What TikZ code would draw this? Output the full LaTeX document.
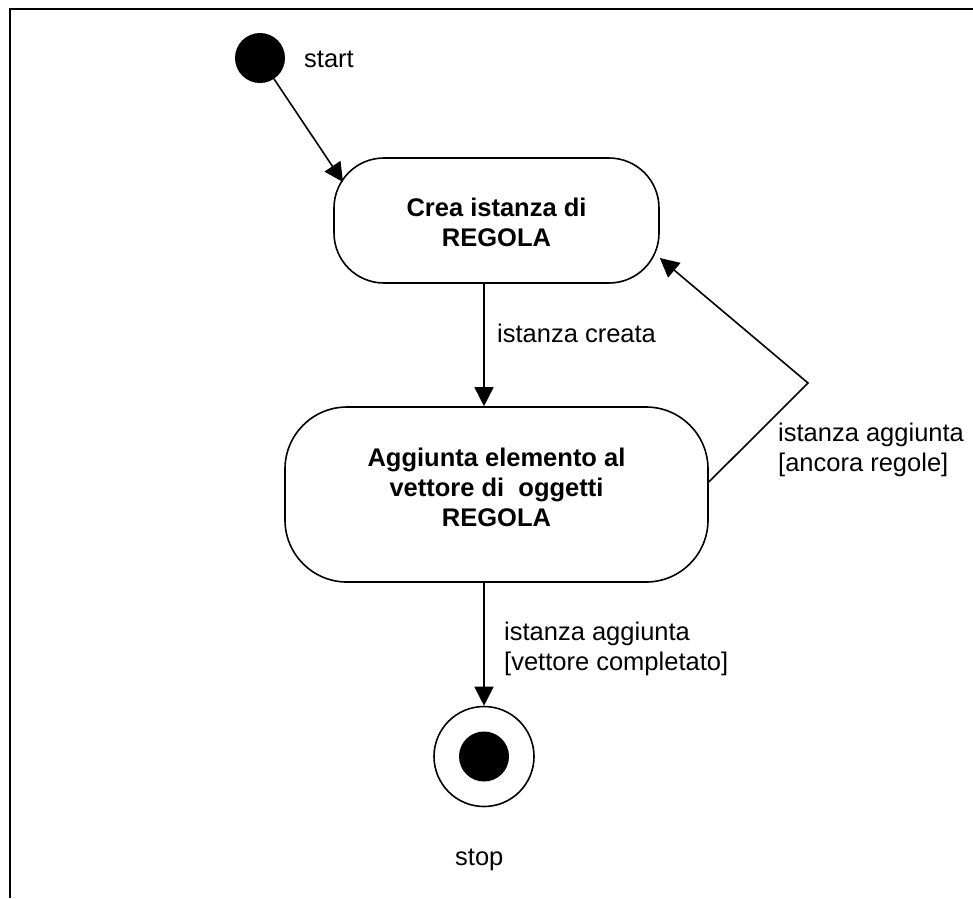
\documentclass[tikz,border=0pt]{standalone}
\usepackage{fontspec}
\setmainfont{Liberation Sans}
\usetikzlibrary{arrows.meta}
\begin{document}
\begin{tikzpicture}[x=1pt,y=-1pt,
  every node/.style={font=\fontsize{25.5pt}{29.5pt}\selectfont},
  arr/.style={line width=1.6pt, -{Triangle[length=19pt,width=19pt]}},
  activity/.style={draw, line width=1.6pt,
    font=\fontsize{25.5pt}{30pt}\selectfont\bfseries},
  lbl/.style={inner sep=0pt, align=left, anchor=base west},
  initial/.style={circle, fill, minimum size=50pt, inner sep=0pt},
  final/.style={circle, draw, line width=1.6pt, minimum size=100pt, inner sep=0pt}
]
\useasboundingbox (0,0) rectangle (973,898);
% frame
\draw[line width=2.8pt] (10,898) -- (10,9) -- (973,9);

% states
\node[initial] (init) at (260,58) {};
\node[lbl] (initlbl) at (304,67) {start};

\node[activity, minimum width=325pt, minimum height=125pt, rounded corners=50pt]
  (crea) at (496.5,220.5)
  {\raisebox{-5pt}[\height][\depth]{\begin{tabular}{@{}c@{}}Crea istanza di\\
     REGOLA\end{tabular}}};

\node[activity, minimum width=423pt, minimum height=175pt, rounded corners=62pt]
  (agg) at (496.5,494.5)
  {\raisebox{4pt}[\height][\depth]{\begin{tabular}{@{}c@{}}Aggiunta elemento al\\
     vettore di\ \ oggetti\\REGOLA\end{tabular}}};

\node[final] (fin) at (484,756.5) {};
\fill (fin.center) circle (25pt);
\node[lbl] (finlbl) at (455,865) {stop};

% transitions
\coordinate (entry) at (343,182);
\draw[arr] (init) -- (entry);

\draw[arr] ([xshift=-12.5pt]crea.south) -- ([xshift=-12.5pt]agg.north);
\node[lbl] (l1) at (497,342) {istanza creata};

\coordinate (bend) at (808,383);
\draw[arr] ([yshift=12.5pt]agg.east) -- (bend) -- ([yshift=-37.5pt]crea.east);
\node[lbl] (l2) at (778,471) {istanza aggiunta\\{}[ancora regole]};

\draw[arr] ([xshift=-12.5pt]agg.south) -- (fin);
\node[lbl] (l3) at (504,670) {istanza aggiunta\\{}[vettore completato]};
\end{tikzpicture}
\end{document}
